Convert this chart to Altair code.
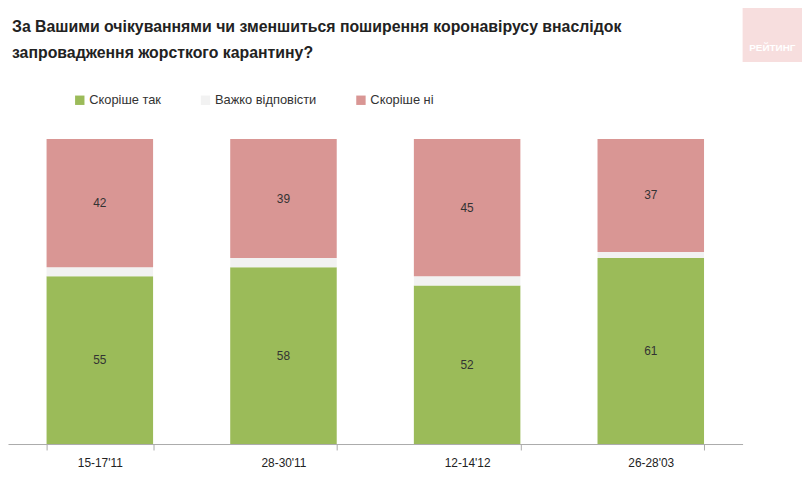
import pandas as pd
import altair as alt

periods = ["15-17'11", "28-30'11", "12-14'12", "26-28'03"]
answers = ["Скоріше так", "Важко відповісти", "Скоріше ні"]
yes_vals = [55, 58, 52, 61]
hard_vals = [3, 3, 3, 2]
no_vals = [42, 39, 45, 37]
colors = ["#9bbb59", "#f2f2f2", "#d99694"]
title_lines = ["За Вашими очікуваннями чи зменшиться поширення коронавірусу внаслідок",
               "запровадження жорсткого карантину?"]

rows = []
for i, p in enumerate(periods):
    base = 0
    for k, (a, v) in enumerate(zip(answers, [yes_vals[i], hard_vals[i], no_vals[i]])):
        rows.append({"period": p, "answer": a, "value": v, "order": k,
                     "y0": base, "y1": base + v, "mid": base + v / 2,
                     "label": str(v) if k != 1 else ""})
        base += v
df = pd.DataFrame(rows)

font = "Liberation Sans"
x = alt.X("period:N", sort=periods, title=None,
          scale=alt.Scale(paddingInner=0.42, paddingOuter=0.21),
          axis=alt.Axis(labelAngle=0, labelFontSize=12, labelColor="#222", labelFont=font,
                        domainColor="#aaa", tickColor="#aaa", tickBand="extent", grid=False,
                        tickSize=6, labelPadding=8))

bars = alt.Chart(df).mark_bar().encode(
    x=x,
    y=alt.Y("y0:Q", scale=alt.Scale(domain=[0, 100]), axis=None),
    y2="y1:Q",
    color=alt.Color("answer:N", sort=answers,
                    scale=alt.Scale(domain=answers, range=colors),
                    legend=alt.Legend(title=None, orient="none", direction="horizontal",
                                      legendX=66, legendY=-46, symbolType="square",
                                      symbolSize=90, symbolOpacity=1, symbolStrokeWidth=0,
                                      labelFontSize=13, labelFont=font, labelColor="#333",
                                      columnPadding=38, labelOffset=3)),
)

labels = alt.Chart(df).mark_text(fontSize=12, font=font, color="#333").encode(
    x=alt.X("period:N", sort=periods),
    y=alt.Y("mid:Q", axis=None),
    text="label:N",
)

def title_line(txt, yv):
    return alt.Chart(pd.DataFrame({"t": [txt]})).mark_text(
        align="left", baseline="alphabetic", fontSize=16, font=font,
        fontWeight="bold", color="#222").encode(x=alt.value(4), y=alt.value(yv), text="t:N")

logo = alt.Chart(pd.DataFrame({"t": ["РЕЙТИНГ"]})).mark_rect(color="#f7dede").encode(
    x=alt.value(742), x2=alt.value(802), y=alt.value(-138), y2=alt.value(-78))
logo_txt = alt.Chart(pd.DataFrame({"t": ["РЕЙТИНГ"]})).mark_text(
    color="white", fontSize=10, fontWeight="bold", font=font).encode(
    x=alt.value(772), y=alt.value(-92), text="t:N")

chart = alt.layer(bars, labels, title_line(title_lines[0], -108),
                  title_line(title_lines[1], -82), logo, logo_txt).properties(
    width=742, height=308,
    background="white",
    autosize=alt.AutoSizeParams(type="none"),
    padding={"left": 0, "top": 130, "right": 60, "bottom": 44},
).configure_view(strokeWidth=0)

chart.save("out.html", embed_options={"renderer": "svg", "actions": False})
